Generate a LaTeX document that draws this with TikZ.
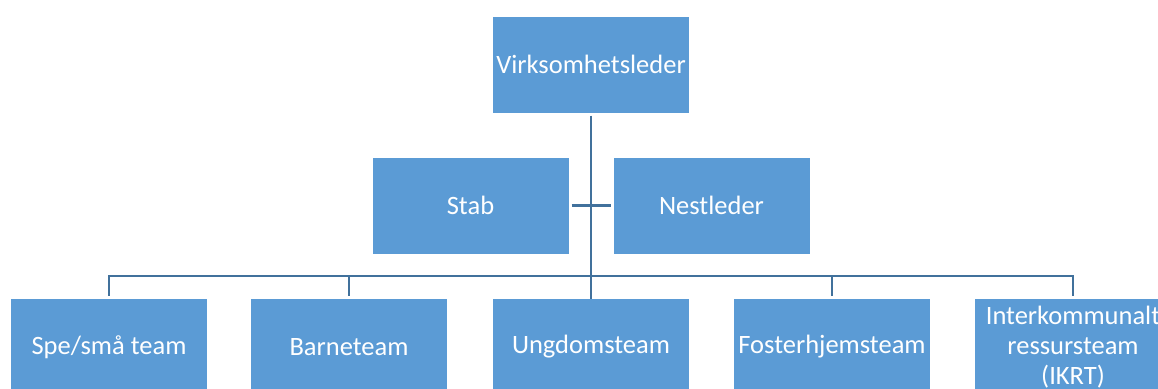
\documentclass[tikz,border=0pt]{standalone}
\usepackage{fontspec}
\setmainfont{Carlito}
\definecolor{boxblue}{HTML}{5B9BD5}
\definecolor{lineblue}{HTML}{41719C}
\tikzset{unit/.style={rectangle,fill=boxblue,text=white,minimum width=196pt,
		minimum height=96pt,inner sep=0pt,align=center,
		font=\fontsize{26.5}{30}\selectfont},
	conn/.style={draw=lineblue,line width=2.8pt}}

\begin{document}
\begin{tikzpicture}[x=1pt,y=1pt]
		\clip (0,0) rectangle (1158,-388);
		\begin{scope}[every node/.style={unit}]
			\node (V) at (591,-64.5) {Virksomhetsleder};
			\node (S) at (470.5,-205.5) {Stab};
			\node (N) at (711.5,-205.5) {Nestleder};
			\node (SP) at (109,-347) {Spe/små team};
			\node (B) at (349,-347) {Barneteam};
			\node (U) at (591,-347) {Ungdomsteam};
			\node (F) at (832,-347) {Fosterhjemsteam};
			\node (I) at (1073,-347) {Interkommunalt\\ressursteam\\(IKRT)};
		\end{scope}
		\coordinate (bus) at (591,-276);
		\begin{scope}[every edge/.style={conn}]
			\path [-] (V) edge[shorten <=3pt] (U);
			\path [-] (S) edge[shorten <=3pt,shorten >=2pt] (N);
		\end{scope}
		\draw[conn,shorten >=3pt] (bus) -| (SP.north);
		\draw[conn,shorten >=3pt] (bus) -| (B.north);
		\draw[conn,shorten >=3pt] (bus) -| (F.north);
		\draw[conn,shorten >=3pt] (bus) -| (I.north);
	\end{tikzpicture}
\end{document}
